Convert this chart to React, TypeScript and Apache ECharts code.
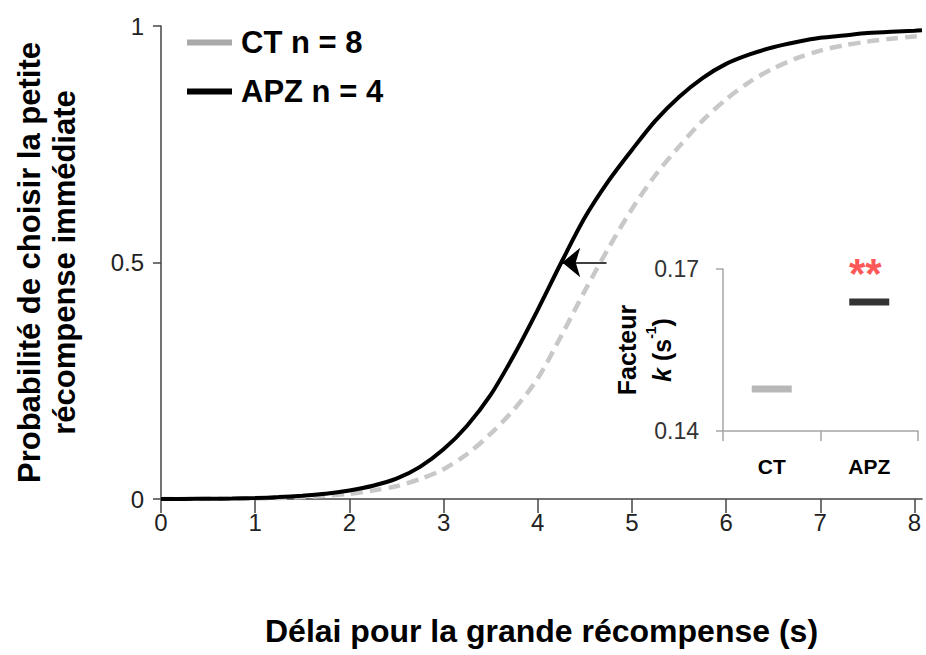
import React, { useEffect, useRef } from "react";
import * as echarts from "echarts";

// Main chart: probability of choosing the small immediate reward vs delay (s)
const delays = [0, 0.25, 0.5, 0.75, 1, 1.25, 1.5, 1.75, 2, 2.25, 2.5, 2.75, 3, 3.25, 3.5, 3.75, 4, 4.25, 4.5, 4.75, 5, 5.25, 5.5, 5.75, 6, 6.25, 6.5, 6.75, 7, 7.25, 7.5, 7.75, 8, 8.08];
const ctValues = [0, 0.0001, 0.0003, 0.0006, 0.001, 0.002, 0.004, 0.007, 0.011, 0.018, 0.027, 0.042, 0.063, 0.095, 0.138, 0.19, 0.255, 0.345, 0.44, 0.53, 0.613, 0.685, 0.745, 0.8, 0.845, 0.882, 0.91, 0.932, 0.948, 0.959, 0.967, 0.973, 0.978, 0.979];
const apzValues = [0, 0.0002, 0.0005, 0.001, 0.002, 0.004, 0.007, 0.011, 0.018, 0.028, 0.043, 0.068, 0.105, 0.155, 0.22, 0.305, 0.4, 0.5, 0.595, 0.672, 0.738, 0.8, 0.85, 0.89, 0.92, 0.94, 0.955, 0.966, 0.975, 0.98, 0.985, 0.988, 0.99, 0.991];
const seriesNames = ["CT n = 8", "APZ n = 4"];
const xTicks = [0, 1, 2, 3, 4, 5, 6, 7, 8];
const yTicks = [0, 0.5, 1];

// Inset: k factor (s^-1)
const insetCategories = ["CT", "APZ"];
const insetK = [0.1478, 0.1639];
const insetTicks = [0.14, 0.17];
const significance = "**";

const ARIAL = "'Liberation Sans', Arial, sans-serif";

export default function App() {
  const ref = useRef<HTMLDivElement>(null);
  useEffect(() => {
    if (!ref.current) return;
    const chart = echarts.init(ref.current, undefined, { renderer: "svg" });
    const ctData = delays.map((d, i) => [d, ctValues[i]]);
    const apzData = delays.map((d, i) => [d, apzValues[i]]);
    chart.setOption({
      animation: false,
      backgroundColor: "#ffffff",
      textStyle: { fontFamily: ARIAL },
      legend: {
        left: 187,
        top: 27,
        padding: 0,
        orient: "vertical",
        icon: "rect",
        itemWidth: 45,
        itemHeight: 6,
        itemGap: 18,
        data: [
          { name: seriesNames[0], itemStyle: { color: "#a9a9a9", borderWidth: 0 } },
          { name: seriesNames[1], itemStyle: { color: "#000000", borderWidth: 0 } },
        ],
        textStyle: {
          fontFamily: ARIAL,
          fontSize: 31,
          fontWeight: "bold",
          color: "#000",
          lineHeight: 31,
          padding: [0, 0, 0, 4],
        },
      },
      grid: [
        { left: 161, right: 4, top: 26, bottom: 156 },
        { left: 723, right: 8, top: 269, bottom: 224 },
      ],
      xAxis: [
        {
          type: "value",
          gridIndex: 0,
          min: 0,
          max: 8.08,
          name: "Délai pour la grande récompense (s)",
          nameLocation: "middle",
          nameGap: 116,
          nameTextStyle: { fontFamily: ARIAL, fontSize: 32, fontWeight: "bold", color: "#000" },
          axisLine: { show: true, lineStyle: { color: "#444", width: 1.5 } },
          axisTick: { show: true, length: 14, lineStyle: { color: "#444", width: 1.5 }, customValues: xTicks },
          axisLabel: { fontSize: 24, color: "#222", margin: 11, customValues: xTicks, formatter: (v: number) => String(v) },
          splitLine: { show: false },
        },
        {
          type: "category",
          gridIndex: 1,
          data: insetCategories,
          boundaryGap: true,
          axisLine: { lineStyle: { color: "#a6a6a6", width: 1.5 } },
          axisTick: { show: true, length: 10, lineStyle: { color: "#a6a6a6", width: 1.5 } },
          axisLabel: { fontFamily: ARIAL, fontSize: 21, fontWeight: "bold", color: "#000", margin: 25 },
          splitLine: { show: false },
        },
      ],
      yAxis: [
        {
          type: "value",
          gridIndex: 0,
          min: 0,
          max: 1,
          interval: 0.5,
          name: "Probabilité de choisir la petite\nrécompense immédiate",
          nameLocation: "middle",
          nameRotate: 90,
          nameGap: 79,
          nameTextStyle: { fontFamily: ARIAL, fontSize: 31, fontWeight: "bold", color: "#000", lineHeight: 35 },
          axisLine: { show: true, lineStyle: { color: "#444", width: 1.5 } },
          axisTick: { show: true, length: 8, lineStyle: { color: "#444", width: 1.5 } },
          axisLabel: { fontSize: 24, color: "#222", margin: 17, customValues: yTicks, formatter: (v: number) => String(v) },
          splitLine: { show: false },
        },
        {
          type: "value",
          gridIndex: 1,
          min: 0.14,
          max: 0.17,
          name: "Facteur\n{k|k} (s{sup|-1})",
          nameLocation: "middle",
          nameRotate: 90,
          nameGap: 44,
          nameMoveOverlap: false,
          nameTextStyle: {
            fontFamily: ARIAL,
            fontSize: 25,
            fontWeight: "bold",
            color: "#000",
            lineHeight: 35,
            rich: {
              k: { fontFamily: ARIAL, fontSize: 25, fontWeight: "bold", fontStyle: "italic", color: "#000", lineHeight: 35 },
              sup: { fontFamily: ARIAL, fontSize: 14, fontWeight: "bold", color: "#000", verticalAlign: "top", lineHeight: 35 },
            },
          },
          axisLine: { show: true, lineStyle: { color: "#a6a6a6", width: 1.5 } },
          axisTick: { show: true, length: 7, customValues: insetTicks, lineStyle: { color: "#a6a6a6", width: 1.5 } },
          axisLabel: {
            fontFamily: ARIAL,
            fontSize: 23,
            color: "#333",
            margin: 24,
            customValues: insetTicks,
            formatter: (v: number) => v.toFixed(2),
          },
          splitLine: { show: false },
        },
      ],
      series: [
        {
          name: seriesNames[0],
          type: "line",
          xAxisIndex: 0,
          yAxisIndex: 0,
          data: ctData,
          smooth: 0.3,
          showSymbol: false,
          symbol: "none",
          lineStyle: { color: "#c8c8c8", width: 4.5, type: [12, 7] },
          itemStyle: { color: "#c8c8c8" },
          z: 2,
        },
        {
          name: seriesNames[1],
          type: "line",
          xAxisIndex: 0,
          yAxisIndex: 0,
          data: apzData,
          smooth: 0.3,
          showSymbol: false,
          symbol: "none",
          lineStyle: { color: "#000", width: 4 },
          itemStyle: { color: "#000" },
          z: 3,
          markLine: {
            silent: true,
            symbol: ["none", "arrow"],
            symbolSize: [22, 18],
            lineStyle: { color: "#000", width: 1.5, type: "solid" },
            label: { show: false },
            data: [[{ coord: [4.73, 0.5] }, { coord: [4.26, 0.5] }]],
          },
        },
        {
          name: "k",
          type: "scatter",
          xAxisIndex: 1,
          yAxisIndex: 1,
          symbol: "rect",
          symbolSize: [40, 7],
          data: [
            { value: insetK[0], itemStyle: { color: "#a6a6a6" } },
            {
              value: insetK[1],
              itemStyle: { color: "#000" },
              label: {
                show: true,
                position: "top",
                distance: 4,
                offset: [-4, 0],
                formatter: significance,
                color: "#ff2a2a",
                fontSize: 42,
                fontWeight: "bold",
                fontFamily: ARIAL,
              },
            },
          ],
          z: 4,
        },
      ],
    });
    return () => chart.dispose();
  }, []);
  return (
    <div
      ref={ref}
      style={{ position: "absolute", left: 0, top: 0, width: 926, height: 655 }}
    />
  );
}
